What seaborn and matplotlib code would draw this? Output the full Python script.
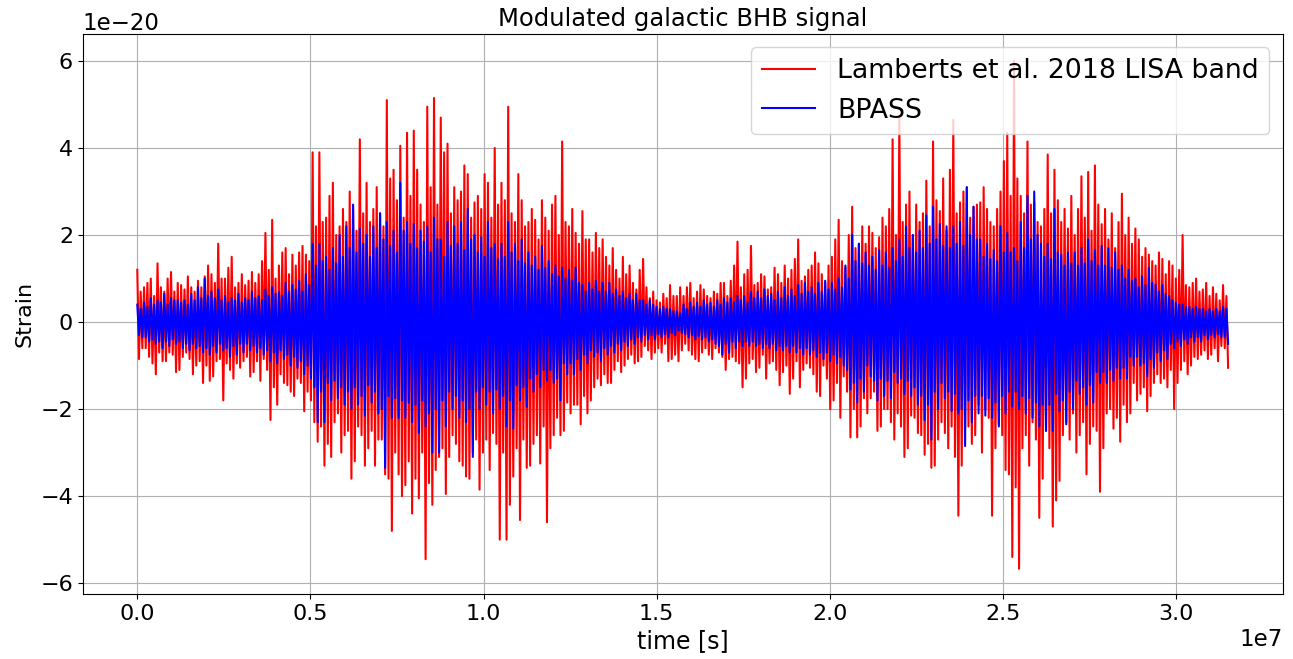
import numpy as np
import pandas as pd
import matplotlib
matplotlib.use("Agg")
import matplotlib.pyplot as plt
import seaborn as sns

# ---------------- data (strain in units of 1e-20) -------------
T_END = 3.15e7          # one year of observation [s]
SCALE = 1e-20

# Red curve (Lamberts et al. 2018): per time bin, the largest upward / downward
# excursion and a second, smaller pair of excursions.
red_upper = [
    1.2, 0.8, 1.0, 1.35, 0.7, 1.15, 0.9, 0.75, 0.8, 0.95,
    1.05, 1.1, 1.8, 1.0, 1.5, 0.9, 0.85, 1.15, 1.1, 2.05,
    2.35, 1.3, 1.7, 1.55, 1.6, 1.55, 3.9,
    3.9, 2.4, 3.2, 2.2, 2.3, 2.6, 4.2, 3.2, 2.6, 2.5,
    5.1, 3.5, 4.05, 4.35, 4.4, 2.7, 4.95, 5.15, 4.7, 4.1,
    3.1, 3.0, 3.4, 2.75, 2.6, 3.2, 4.0,
    3.2, 4.95, 2.3, 2.8, 2.3, 2.35, 2.8, 2.1, 2.9, 4.15,
    2.2, 2.05, 2.55, 1.9, 2.05, 1.9, 1.3, 1.2, 1.5, 1.3,
    0.75, 1.45, 0.55, 0.5, 0.65, 0.85, 0.6,
    0.6, 0.9, 0.7, 0.75, 0.55, 0.65, 0.9, 0.95, 1.85, 1.1,
    1.75, 0.9, 1.05, 0.8, 1.1, 1.3, 1.2, 1.9, 1.05, 1.3,
    1.35, 0.9, 1.5, 2.35, 1.25, 2.65, 1.8,
    1.8, 2.05, 1.95, 2.2, 4.2, 4.75, 2.7, 2.0, 2.3, 3.25,
    4.15, 2.55, 2.1, 4.65, 2.75, 3.1, 2.65, 2.75, 2.6, 2.2,
    3.0, 4.35, 6.0, 2.9, 4.15, 2.75, 2.2,
    3.85, 3.5, 2.3, 2.15, 2.0, 3.35, 3.45, 3.6, 2.25, 1.9,
    1.7, 2.95, 2.4, 2.15, 1.5, 1.55, 1.3, 1.45, 1.4, 1.0,
    2.0, 0.8, 1.0, 0.75, 0.6, 0.65, 0.85,
]
red_lower = [
    -0.6, -0.8, -1.2, -0.9, -0.7, -1.15, -0.8, -0.85, -1.0, -1.4,
    -1.35, -0.9, -1.8, -1.1, -0.95, -0.9, -1.25, -0.9, -0.85, -2.25,
    -1.9, -1.4, -1.6, -1.3, -2.05, -1.8, -2.75,
    -3.3, -3.1, -2.1, -2.6, -3.6, -2.4, -3.3, -2.5, -2.7, -3.5,
    -4.8, -3.5, -3.75, -4.4, -4.05, -5.45, -4.2, -3.1, -3.95, -2.6,
    -3.2, -3.55, -3.0, -3.85, -2.7, -2.55, -5.0,
    -5.0, -3.55, -4.55, -3.35, -2.8, -3.25, -4.6, -2.6, -2.6, -1.85,
    -1.9, -2.35, -2.1, -1.5, -1.45, -1.4, -1.1, -1.15, -0.85, -0.95,
    -0.8, -0.65, -0.7, -0.7, -0.9, -0.75, -0.65,
    -0.65, -0.85, -0.7, -0.75, -0.6, -0.8, -0.85, -0.9, -1.5, -0.95,
    -1.15, -0.75, -0.95, -1.1, -1.15, -1.65, -0.9, -1.1, -1.05, -1.6,
    -1.0, -2.0, -1.4, -1.25, -2.65, -2.65, -1.75,
    -1.75, -2.5, -2.0, -2.3, -2.1, -3.1, -2.15, -2.55, -3.05, -3.35,
    -2.7, -2.55, -2.4, -4.45, -2.45, -2.8, -1.9, -2.0, -4.45, -2.35,
    -3.4, -5.4, -5.67, -2.6, -2.3, -4.5, -2.5,
    -4.7, -3.65, -2.3, -2.1, -2.6, -3.5, -2.4, -3.9, -2.1, -2.45,
    -2.75, -2.3, -1.4, -1.65, -2.05, -1.4, -1.4, -1.5, -2.0, -1.1,
    -1.2, -0.8, -0.75, -0.85, -0.6, -0.55, -1.05,
]
red_upper2 = [
    0.7, 0.9, 0.6, 0.8, 1.0, 0.7, 0.85, 1.05, 0.7, 0.8,
    1.3, 0.9, 1.0, 1.25, 0.8, 1.1, 0.95, 0.9, 1.4, 1.2,
    1.0, 1.6, 1.1, 1.3, 1.75, 1.4, 2.2,
    2.3, 2.9, 2.0, 2.6, 3.0, 2.1, 2.5, 2.3, 3.1, 2.2,
    3.3, 2.8, 2.4, 2.9, 3.5, 2.3, 3.1, 2.7, 3.9, 2.5,
    2.8, 3.6, 2.4, 2.9, 3.4, 2.4, 2.7,
    2.8, 2.5, 3.4, 2.2, 2.6, 1.9, 2.4, 2.7, 2.0, 2.3,
    2.6, 1.8, 1.9, 1.6, 1.7, 1.5, 1.7, 1.0, 1.1, 0.9,
    1.2, 0.8, 0.7, 0.45, 0.55, 0.6, 0.8,
    0.8, 0.55, 0.85, 0.6, 0.7, 0.9, 0.6, 1.3, 0.8, 1.2,
    0.85, 1.1, 0.75, 1.25, 0.9, 1.0, 1.45, 0.95, 1.2, 1.6,
    1.1, 1.3, 1.9, 1.4, 2.0, 1.7, 2.2,
    2.2, 1.7, 2.4, 2.6, 2.0, 2.3, 3.0, 2.7, 2.5, 2.2,
    2.8, 3.3, 3.5, 2.5, 3.0, 2.4, 2.7, 3.1, 2.3, 2.6,
    3.7, 2.9, 3.3, 2.5, 2.7, 2.3, 2.6,
    2.5, 2.8, 2.6, 2.9, 2.6, 2.4, 2.1, 2.7, 2.6, 2.5,
    2.3, 2.0, 1.8, 1.9, 1.7, 1.4, 1.6, 1.1, 1.3, 1.2,
    0.85, 0.9, 0.7, 0.9, 0.8, 0.5, 0.6,
]
red_lower2 = [
    -0.85, -0.6, -0.95, -0.7, -0.9, -0.75, -1.1, -0.7, -1.2, -0.9,
    -1.0, -1.25, -0.85, -0.95, -1.3, -1.05, -0.8, -1.15, -1.35, -1.1,
    -1.5, -1.2, -1.45, -1.7, -1.4, -1.6, -2.3,
    -2.4, -2.8, -2.3, -3.0, -2.5, -3.2, -2.6, -2.9, -3.3, -2.7,
    -3.6, -3.0, -4.0, -3.2, -3.6, -3.0, -3.7, -3.4, -2.9, -3.1,
    -2.8, -3.3, -3.6, -2.7, -3.0, -3.4, -2.8,
    -3.0, -4.2, -2.9, -2.7, -3.3, -2.6, -2.4, -2.9, -2.2, -2.5,
    -2.1, -1.9, -1.7, -1.8, -1.3, -1.2, -1.4, -0.9, -1.0, -0.75,
    -0.9, -0.55, -0.85, -0.6, -0.5, -0.85, -0.9,
    -0.5, -0.75, -0.9, -0.6, -0.85, -0.7, -1.1, -0.8, -0.95, -1.3,
    -0.85, -1.05, -1.3, -0.9, -1.45, -1.0, -1.3, -1.5, -0.95, -1.2,
    -1.7, -1.3, -1.8, -2.2, -1.6, -2.0, -2.4,
    -2.1, -1.6, -2.4, -2.0, -2.7, -2.4, -2.9, -2.2, -2.6, -2.8,
    -3.3, -2.3, -2.9, -3.1, -3.3, -2.4, -2.6, -3.0, -2.2, -2.9,
    -2.6, -3.5, -3.8, -2.9, -3.3, -2.7, -3.6,
    -2.9, -4.1, -2.6, -2.7, -3.0, -2.3, -2.8, -2.5, -2.9, -2.0,
    -2.2, -1.9, -2.1, -1.8, -1.5, -1.7, -1.2, -1.3, -1.1, -1.4,
    -0.9, -1.0, -0.85, -0.65, -0.75, -0.9, -0.6,
]

# Blue curve (BPASS): same layout
blue_upper = [
    0.4, 0.45, 0.55, 0.5, 0.65, 0.55, 0.5, 0.5, 0.65, 0.8,
    1.0, 0.7, 0.75, 0.6, 0.55, 0.65, 0.55, 0.7, 0.6, 0.75,
    0.8, 0.7, 0.9, 0.85, 0.95, 1.1, 1.8,
    1.8, 1.5, 1.7, 2.0, 2.2, 2.7, 2.15, 2.0, 2.2, 2.5,
    2.3, 2.1, 3.2, 2.3, 2.25, 2.1, 2.2, 2.4, 1.9, 2.3,
    2.2, 2.3, 2.6, 2.0, 1.95, 2.3, 1.8,
    1.8, 2.3, 1.8, 1.9, 1.6, 1.5, 1.75, 1.4, 1.3, 1.25,
    1.2, 1.25, 0.85, 0.9, 0.95, 0.9, 0.9, 0.75, 0.7, 0.65,
    0.65, 0.5, 0.5, 0.35, 0.35, 0.3, 0.25,
    0.4, 0.45, 0.45, 0.5, 0.45, 0.5, 0.55, 0.55, 0.6, 0.6,
    0.7, 0.7, 0.75, 0.65, 0.7, 0.8, 0.75, 0.85, 0.9, 0.8,
    0.9, 0.95, 0.9, 1.0, 1.3, 2.0, 1.8,
    1.6, 1.5, 1.65, 1.6, 1.7, 1.9, 2.2, 2.0, 2.1, 2.45,
    2.65, 2.25, 2.2, 2.2, 2.3, 3.1, 2.65, 1.9, 1.8, 1.65,
    2.2, 2.05, 1.7, 2.3, 2.9, 3.0, 1.8,
    1.8, 2.6, 1.55, 1.6, 1.6, 1.7, 1.9, 1.65, 1.75, 1.7,
    1.6, 1.3, 1.2, 1.0, 1.05, 1.25, 0.85, 0.85, 0.6, 0.45,
    0.4, 0.35, 0.35, 0.3, 0.3, 0.3, 0.35,
]
blue_lower = [
    -0.35, -0.45, -0.5, -0.6, -0.55, -0.5, -0.6, -0.65, -0.6, -0.7,
    -0.75, -0.7, -0.65, -0.8, -0.75, -0.7, -0.65, -0.7, -0.75, -0.9,
    -0.95, -0.85, -1.0, -1.05, -1.2, -1.3, -2.3,
    -2.3, -1.8, -1.75, -1.9, -2.0, -1.9, -2.15, -1.85, -2.1, -3.35,
    -2.2, -2.2, -2.2, -2.3, -2.55, -2.4, -3.0, -3.0, -2.4, -2.0,
    -2.2, -2.3, -3.1, -2.0, -1.9, -2.1, -2.0,
    -2.4, -2.45, -1.8, -1.95, -1.6, -1.5, -1.35, -1.4, -1.8, -1.2,
    -1.2, -1.1, -0.95, -0.8, -0.9, -0.75, -0.7, -0.65, -0.55, -0.5,
    -0.45, -0.4, -0.4, -0.35, -0.35, -0.3, -0.25,
    -0.35, -0.4, -0.4, -0.45, -0.5, -0.75, -0.7, -0.6, -0.55, -0.55,
    -0.55, -0.6, -0.6, -0.65, -0.65, -0.7, -0.7, -0.75, -0.75, -0.8,
    -0.85, -0.9, -0.95, -1.0, -1.55, -1.85, -1.6,
    -1.25, -1.8, -1.7, -1.75, -1.4, -1.65, -1.7, -1.9, -2.25, -2.7,
    -2.0, -1.75, -2.05, -2.1, -2.85, -2.3, -2.1, -2.15, -2.2, -2.4,
    -2.1, -1.95, -2.0, -2.1, -2.2, -2.4, -2.5,
    -2.5, -2.05, -2.35, -2.0, -1.65, -1.9, -1.85, -1.4, -1.4, -1.35,
    -1.3, -1.3, -1.0, -1.0, -1.25, -1.05, -0.9, -0.85, -0.6, -0.55,
    -0.5, -0.45, -0.45, -0.4, -0.35, -0.35, -0.5,
]
blue_upper2 = [
    0.3, 0.35, 0.4, 0.45, 0.4, 0.5, 0.45, 0.4, 0.5, 0.55,
    0.6, 0.55, 0.5, 0.45, 0.5, 0.45, 0.5, 0.55, 0.5, 0.6,
    0.65, 0.6, 0.7, 0.75, 0.7, 0.85, 1.3,
    1.4, 1.2, 1.35, 1.5, 1.7, 1.6, 1.8, 1.5, 1.7, 1.9,
    1.75, 1.6, 2.1, 1.8, 1.7, 1.85, 1.6, 1.9, 1.5, 1.75,
    1.8, 1.65, 1.9, 1.6, 1.5, 1.7, 1.45,
    1.5, 1.6, 1.4, 1.35, 1.3, 1.2, 1.25, 1.1, 1.05, 1.0,
    0.95, 0.9, 0.7, 0.75, 0.7, 0.7, 0.65, 0.6, 0.55, 0.5,
    0.5, 0.4, 0.4, 0.3, 0.3, 0.25, 0.2,
    0.3, 0.35, 0.35, 0.4, 0.35, 0.4, 0.45, 0.45, 0.5, 0.45,
    0.55, 0.55, 0.6, 0.5, 0.55, 0.6, 0.6, 0.65, 0.7, 0.65,
    0.7, 0.75, 0.75, 0.8, 1.0, 1.4, 1.35,
    1.3, 1.2, 1.3, 1.25, 1.4, 1.5, 1.7, 1.6, 1.7, 1.8,
    1.9, 1.75, 1.7, 1.8, 1.75, 2.0, 1.9, 1.5, 1.45, 1.4,
    1.6, 1.6, 1.4, 1.7, 1.9, 2.0, 1.5,
    1.45, 1.6, 1.3, 1.35, 1.3, 1.35, 1.4, 1.3, 1.3, 1.25,
    1.2, 1.0, 0.95, 0.8, 0.85, 0.9, 0.7, 0.65, 0.5, 0.4,
    0.35, 0.3, 0.3, 0.25, 0.25, 0.25, 0.3,
]
blue_lower2 = [
    -0.3, -0.35, -0.4, -0.45, -0.45, -0.4, -0.45, -0.5, -0.5, -0.55,
    -0.6, -0.55, -0.5, -0.6, -0.55, -0.5, -0.5, -0.55, -0.6, -0.65,
    -0.7, -0.65, -0.75, -0.8, -0.9, -1.0, -1.5,
    -1.6, -1.4, -1.35, -1.5, -1.6, -1.5, -1.7, -1.45, -1.6, -2.0,
    -1.7, -1.75, -1.8, -1.85, -1.9, -1.8, -2.1, -2.0, -1.8, -1.6,
    -1.7, -1.8, -2.0, -1.6, -1.5, -1.6, -1.55,
    -1.7, -1.8, -1.45, -1.5, -1.3, -1.2, -1.1, -1.1, -1.3, -0.95,
    -0.95, -0.85, -0.75, -0.65, -0.7, -0.6, -0.55, -0.5, -0.45, -0.4,
    -0.35, -0.3, -0.3, -0.28, -0.28, -0.25, -0.2,
    -0.28, -0.3, -0.32, -0.35, -0.4, -0.55, -0.5, -0.45, -0.45, -0.45,
    -0.45, -0.5, -0.5, -0.5, -0.55, -0.55, -0.55, -0.6, -0.6, -0.65,
    -0.7, -0.7, -0.75, -0.8, -1.1, -1.4, -1.3,
    -1.0, -1.35, -1.3, -1.35, -1.15, -1.3, -1.35, -1.5, -1.7, -1.9,
    -1.6, -1.4, -1.6, -1.65, -2.0, -1.8, -1.7, -1.7, -1.75, -1.85,
    -1.7, -1.6, -1.6, -1.7, -1.75, -1.85, -1.9,
    -1.9, -1.65, -1.8, -1.6, -1.35, -1.5, -1.45, -1.15, -1.15, -1.1,
    -1.05, -1.05, -0.8, -0.8, -0.95, -0.85, -0.7, -0.65, -0.5, -0.45,
    -0.4, -0.35, -0.35, -0.3, -0.3, -0.28, -0.35,
]

labels = ["Lamberts et al. 2018 LISA band", "BPASS"]
colors = ["red", "blue"]


def to_series(up, lo2, up2, lo):
    """Arrange the read excursions of each bin in time order: up, low, up, low."""
    out = np.column_stack([up, lo2, up2, lo]).ravel()
    return out * SCALE


red = to_series(red_upper, red_lower2, red_upper2, red_lower)
blue = to_series(blue_upper, blue_lower2, blue_upper2, blue_lower)
t = np.linspace(0.0, T_END, red.size)

df_red = pd.DataFrame({"time": t, "strain": red})
df_blue = pd.DataFrame({"time": t, "strain": blue})

# ---------------- figure ----------------
fig = plt.figure(figsize=(12.93, 6.59), dpi=100)
ax = fig.add_axes([0.064, 0.0986, 0.928, 0.8498])

sns.lineplot(data=df_red, x="time", y="strain", ax=ax, color=colors[0],
             lw=1.5, label=labels[0], sort=False, estimator=None)
sns.lineplot(data=df_blue, x="time", y="strain", ax=ax, color=colors[1],
             lw=1.5, label=labels[1], sort=False, estimator=None)

ax.set_xlim(-0.1575e7, 3.3075e7)
ax.set_ylim(-6.25e-20, 6.62e-20)
ax.grid(True, color="#b0b0b0", lw=0.8)
ax.set_axisbelow(True)

ax.set_title("Modulated galactic BHB signal", fontsize=17.5)
ax.set_xlabel("time [s]", fontsize=17)
ax.set_ylabel("Strain", fontsize=16)
ax.tick_params(axis="both", labelsize=16)
ax.xaxis.get_offset_text().set_fontsize(16.5)
ax.yaxis.get_offset_text().set_fontsize(16.5)

leg = ax.legend(loc="upper right", fontsize=19.3)
for line in leg.get_lines():
    line.set_linewidth(1.5)

fig.savefig("out.png", dpi=100)
